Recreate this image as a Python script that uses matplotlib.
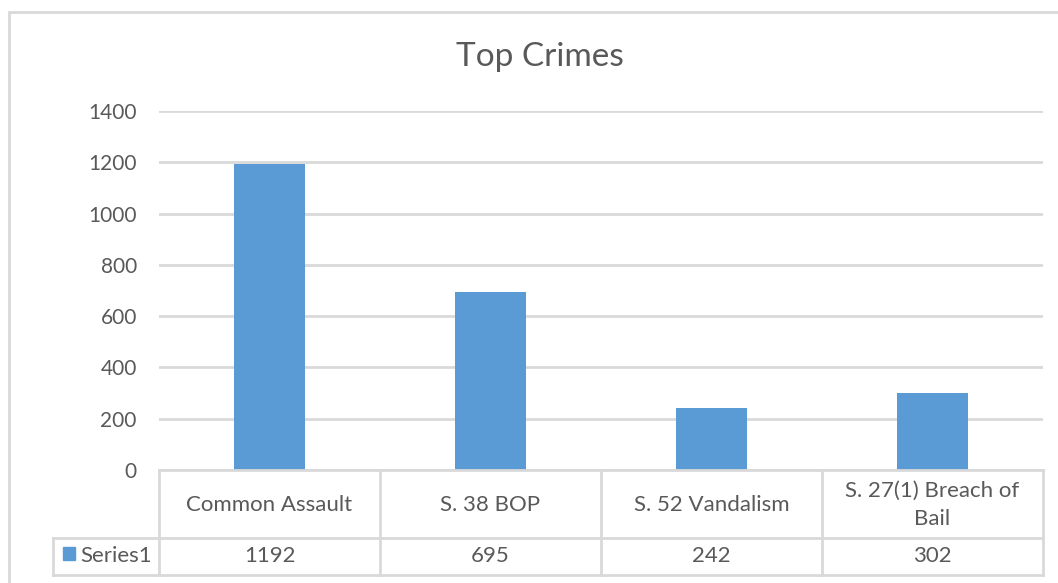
import matplotlib.pyplot as plt
from matplotlib.lines import Line2D
from matplotlib.patches import Rectangle

# data
crimes = ['Common Assault', 'S. 38 BOP', 'S. 52 Vandalism', 'S. 27(1) Breach of\nBail']
counts = [1192, 695, 242, 302]
series_name = 'Series1'
yticks = [0, 200, 400, 600, 800, 1000, 1200, 1400]

W, H = 1058, 583
bar_col = '#5b9bd5'
txt_col = '#595959'
line_col = '#d9d9d9'
plt.rcParams['font.family'] = ['Lato', 'DejaVu Sans']

fig = plt.figure(figsize=(W / 100, H / 100), dpi=100)

def fx(px):
    return px / W

def fy(py):
    return 1 - py / H

# plot area in pixels
left, right, top, bottom = 159, 1043, 111, 470
ax = fig.add_axes([fx(left), fy(bottom), fx(right - left), fy(top) - fy(bottom)])
x = list(range(len(crimes)))
ax.bar(x, counts, width=0.32, color=bar_col, zorder=3)
ax.set_xlim(-0.5, len(crimes) - 0.5)
ax.set_ylim(0, 1400)
ax.set_yticks(yticks)
ax.set_xticks([])
ax.grid(axis='y', color=line_col, linewidth=2, zorder=0)
for s in ax.spines.values():
    s.set_visible(False)
ax.tick_params(axis='y', length=0, pad=16, labelsize=15, labelcolor=txt_col)

fig.text(fx(540), fy(57), 'Top Crimes', ha='center', va='center', fontsize=24, color=txt_col)

# outer chart border
fig.patches.append(Rectangle((fx(9), fy(H + 10)), fx(W), fy(12) - fy(H + 10),
                             transform=fig.transFigure, fill=False, edgecolor=line_col, linewidth=2))

# data table below the axis
col_edges = [left + i * (right - left) / len(crimes) for i in range(len(crimes) + 1)]
row_mid, row_bot = 538, 575
key_left = 53

def hline(y, x0, x1):
    fig.add_artist(Line2D([fx(x0), fx(x1)], [fy(y), fy(y)], color=line_col, linewidth=2))

def vline(xp, y0, y1):
    fig.add_artist(Line2D([fx(xp), fx(xp)], [fy(y0), fy(y1)], color=line_col, linewidth=2))

hline(bottom, left, right)
hline(row_mid, key_left, right)
hline(row_bot, key_left, right)
for e in col_edges:
    vline(e, bottom, row_bot)
vline(key_left, row_mid, row_bot)

for i, name in enumerate(crimes):
    cx = (col_edges[i] + col_edges[i + 1]) / 2
    fig.text(fx(cx), fy((bottom + row_mid) / 2 + 1), name, ha='center', va='center',
             fontsize=16, color=txt_col, linespacing=1.5)
    fig.text(fx(cx), fy((row_mid + row_bot) / 2), str(counts[i]), ha='center', va='center',
             fontsize=16, color=txt_col)

fig.patches.append(Rectangle((fx(63), fy(560)), fx(12), fy(547) - fy(560),
                             transform=fig.transFigure, color=bar_col))
fig.text(fx(80), fy((row_mid + row_bot) / 2), series_name, ha='left', va='center',
         fontsize=16, color=txt_col)

fig.savefig('out.png', dpi=100)
